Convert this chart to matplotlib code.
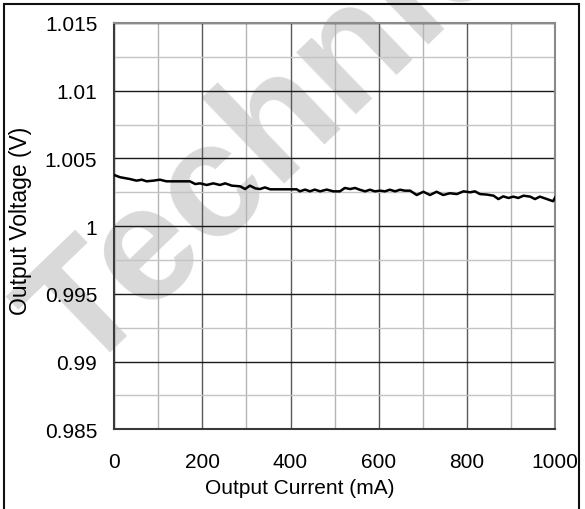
import numpy as np
import matplotlib
matplotlib.use("Agg")
import matplotlib.pyplot as plt
from matplotlib.patches import Rectangle

# Data (output current in mA, output voltage in V)
current_ma = [0, 14, 36, 51, 63, 74, 89, 104, 119, 142, 172, 184, 195, 210, 225,
              240, 252, 267, 286, 297, 308, 320, 331, 342, 354, 414, 421, 433,
              444, 455, 467, 482, 497, 512, 523, 535, 546, 557, 569, 580, 591,
              603, 614, 625, 637, 648, 659, 671, 686, 701, 716, 731, 746, 761,
              777, 792, 807, 818, 829, 845, 860, 871, 882, 894, 905, 916, 928,
              943, 954, 965, 981, 995, 1000]
voltage_v = [1.00378, 1.00361, 1.00348, 1.00336, 1.00343, 1.00331, 1.00336,
             1.00343, 1.00331, 1.00331, 1.00331, 1.00311, 1.00316, 1.00304,
             1.00316, 1.00304, 1.00316, 1.00299, 1.00294, 1.00274, 1.00299,
             1.00279, 1.00274, 1.00286, 1.00272, 1.00272, 1.00257, 1.00270,
             1.00257, 1.00270, 1.00257, 1.00270, 1.00257, 1.00257, 1.00282,
             1.00274, 1.00282, 1.00269, 1.00257, 1.00269, 1.00257, 1.00262,
             1.00257, 1.00269, 1.00257, 1.00269, 1.00262, 1.00262, 1.00230,
             1.00254, 1.00230, 1.00254, 1.00230, 1.00243, 1.00237, 1.00257,
             1.00250, 1.00257, 1.00237, 1.00233, 1.00225, 1.00200, 1.00220,
             1.00208, 1.00218, 1.00208, 1.00225, 1.00218, 1.00200, 1.00218,
             1.00200, 1.00184, 1.00213]

x_ticks = [0, 200, 400, 600, 800, 1000]
y_ticks = [0.985, 0.99, 0.995, 1.0, 1.005, 1.01, 1.015]
y_ticklabels = ["0.985", "0.99", "0.995", "1", "1.005", "1.01", "1.015"]

plt.rcParams['font.family'] = ['Liberation Sans', 'DejaVu Sans']

W, H = 585, 510
fig = plt.figure(figsize=(W / 100, H / 100), dpi=100)

# watermark behind everything
fig.text(82 / W, 1 - 378 / H, "Technical", fontsize=118, fontweight='bold',
         color='#d9d9d9', rotation=44, rotation_mode='anchor',
         ha='left', va='baseline', zorder=-5)

# outer frame
fig.patches.append(Rectangle((3.5 / W, -0.05), 575.5 / W, 1.05 - 4.5 / H,
                             transform=fig.transFigure, fill=False,
                             edgecolor='#111111', linewidth=1.5))

ax = fig.add_axes([114 / W, 1 - 430.3 / H, 441.3 / W, 406.3 / H])
ax.set_facecolor('none')

ax.plot(current_ma, voltage_v, color='black', linewidth=1.8,
        solid_joinstyle='round', zorder=5)

ax.set_xlim(0, 1000)
ax.set_ylim(0.985, 1.015)
ax.set_xticks(x_ticks)
ax.set_yticks(y_ticks)
ax.set_yticklabels(y_ticklabels)
ax.set_xticks(np.arange(100, 1000, 200), minor=True)
ax.set_yticks(np.arange(0.9875, 1.015, 0.005), minor=True)

ax.grid(True, which='major', axis='x', color='#5a5a5a', linewidth=1.0)
ax.grid(True, which='minor', axis='x', color='#b4b4b4', linewidth=1.0)
ax.grid(True, which='major', axis='y', color='#1a1a1a', linewidth=1.0)
ax.grid(True, which='minor', axis='y', color='#c4c4c4', linewidth=1.0)

ax.tick_params(which='both', length=0)
ax.tick_params(axis='y', pad=12, labelsize=15)
ax.tick_params(axis='x', pad=16, labelsize=15)

for side in ['left', 'bottom']:
    ax.spines[side].set_color('#3a3a3a')
    ax.spines[side].set_linewidth(1.5)
for side in ['top', 'right']:
    ax.spines[side].set_color('#8a8a8a')
    ax.spines[side].set_linewidth(1.5)

fig.text(300 / W, 1 - 489 / H, "Output Current (mA)", fontsize=15,
         ha='center', va='center')
fig.text(21 / W, 1 - 221 / H, "Output Voltage (V)", fontsize=16.5,
         rotation=90, ha='center', va='center')

fig.savefig("out.png", dpi=100)
